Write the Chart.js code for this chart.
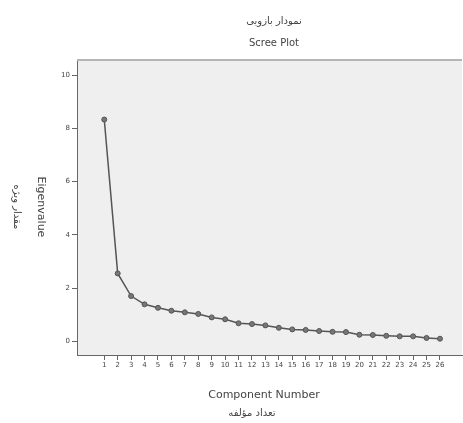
<!DOCTYPE html>
<html>
<head>
<meta charset="utf-8">
<script src="https://cdn.jsdelivr.net/npm/chart.js@4/dist/chart.umd.min.js"></script>
<style>
  html, body { margin: 0; padding: 0; background: #fff; }
  #wrap { width: 463px; height: 423px; }
</style>
</head>
<body>
<div id="wrap"><canvas id="scree" width="463" height="423"></canvas></div>
<script>
// component numbers and eigenvalues
const components = [1, 2, 3, 4, 5, 6, 7, 8, 9, 10, 11, 12, 13, 14, 15, 16, 17, 18, 19, 20, 21, 22, 23, 24, 25, 26];
const eigenvalues = [8.33, 2.56, 1.71, 1.40, 1.27, 1.16, 1.10, 1.04, 0.91, 0.84, 0.69, 0.66, 0.61, 0.52, 0.46, 0.44, 0.40, 0.37, 0.36, 0.26, 0.25, 0.22, 0.20, 0.20, 0.14, 0.11];
const yTicks = [0, 2, 4, 6, 8, 10];

const titleFa = 'نمودار بازویی';
const titleEn = 'Scree Plot';
const xTitleEn = 'Component Number';
const xTitleFa = 'تعداد مؤلفه';
const yTitleEn = 'Eigenvalue';
const yTitleFa = 'مقدار ویژه';

const textColor = '#444';
const font = '"DejaVu Sans", sans-serif';

// grey plot background, top border and all the titles
const decorations = {
    id: 'decorations',
    beforeDraw: function (chart) {
        const ctx = chart.ctx;
        const a = chart.chartArea;
        ctx.save();
        ctx.fillStyle = '#efefef';
        ctx.fillRect(a.left, a.top, a.right - a.left, a.bottom - a.top);
        ctx.restore();
    },
    afterDraw: function (chart) {
        const ctx = chart.ctx;
        const a = chart.chartArea;
        ctx.save();
        ctx.strokeStyle = '#b5b5b5';
        ctx.lineWidth = 2;
        ctx.beginPath();
        ctx.moveTo(a.left, a.top + 1);
        ctx.lineTo(a.right, a.top + 1);
        ctx.stroke();

        ctx.fillStyle = textColor;
        ctx.textAlign = 'center';
        ctx.textBaseline = 'middle';
        ctx.font = '10px ' + font;
        ctx.fillText(titleFa, 274, 21);
        ctx.fillText(titleEn, 274, 43);

        ctx.font = '11px ' + font;
        ctx.fillText(xTitleEn, 264, 395);
        ctx.font = '10px ' + font;
        ctx.fillText(xTitleFa, 252, 413);

        const cy = (a.top + a.bottom) / 2;
        ctx.translate(41, cy);
        ctx.rotate(Math.PI / 2);
        ctx.font = '11px ' + font;
        ctx.fillText(yTitleEn, 0, 0);
        ctx.restore();

        ctx.save();
        ctx.fillStyle = textColor;
        ctx.textAlign = 'center';
        ctx.textBaseline = 'middle';
        ctx.translate(17, cy);
        ctx.rotate(Math.PI / 2);
        ctx.font = '10px ' + font;
        ctx.fillText(yTitleFa, 0, 0);
        ctx.restore();
    }
};

new Chart(document.getElementById('scree').getContext('2d'), {
    type: 'line',
    data: {
        datasets: [{
            data: components.map((c, i) => ({ x: c, y: eigenvalues[i] })),
            borderColor: '#555',
            borderWidth: 1.5,
            pointRadius: 2.5,
            pointBackgroundColor: '#777',
            pointBorderColor: '#555',
            pointBorderWidth: 1,
            tension: 0
        }]
    },
    options: {
        responsive: false,
        animation: false,
        layout: {
            autoPadding: false,
            padding: { top: 59, right: 1, left: 0, bottom: 0 }
        },
        plugins: {
            legend: { display: false },
            tooltip: { enabled: false }
        },
        scales: {
            x: {
                type: 'linear',
                min: -1.03,
                max: 27.64,
                afterBuildTicks: function (scale) {
                    scale.ticks = components.map(v => ({ value: v }));
                },
                afterFit: function (scale) { scale.height = 68; },
                ticks: {
                    color: textColor,
                    font: { size: 7, family: font },
                    padding: 1,
                    maxRotation: 0,
                    autoSkip: false
                },
                grid: {
                    drawOnChartArea: false,
                    tickLength: 5,
                    color: '#666'
                },
                border: { color: '#666', width: 1 }
            },
            y: {
                type: 'linear',
                min: -0.5,
                max: 10.6,
                afterBuildTicks: function (scale) {
                    scale.ticks = yTicks.map(v => ({ value: v }));
                },
                afterFit: function (scale) { scale.width = 77; },
                ticks: {
                    color: textColor,
                    font: { size: 7, family: font },
                    padding: 2
                },
                grid: {
                    drawOnChartArea: false,
                    tickLength: 5,
                    color: '#666'
                },
                border: { color: '#666', width: 1 }
            }
        }
    },
    plugins: [decorations]
});
</script>
</body>
</html>
